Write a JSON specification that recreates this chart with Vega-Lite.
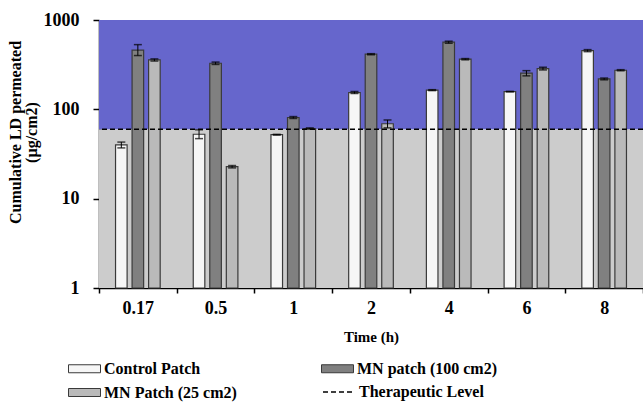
{
  "$schema": "https://vega.github.io/schema/vega-lite/v6.json",
  "autosize": "none",
  "width": 544,
  "height": 268,
  "padding": {"left": 99, "top": 20, "right": 0, "bottom": 117},
  "background": "white",
  "config": {
    "view": {"stroke": null},
    "font": "Liberation Serif",
    "axis": {"labelFont": "Liberation Serif", "titleFont": "Liberation Serif", "labelFontWeight": "bold", "titleFontWeight": "bold", "labelColor": "black", "titleColor": "black", "domainColor": "black", "tickColor": "black", "labelFontSize": 18, "titleFontSize": 16, "domainWidth": 1.5, "tickWidth": 1.5},
    "legend": {"labelFont": "Liberation Serif", "labelFontWeight": "bold", "labelFontSize": 16, "labelColor": "black"}
  },
  "datasets": {
    "bars": [
      {"time": "0.17", "series": "Control Patch", "value": 40, "lo": 37, "hi": 43},
      {"time": "0.17", "series": "MN patch (100 cm2)", "value": 460, "lo": 400, "hi": 530},
      {"time": "0.17", "series": "MN Patch (25 cm2)", "value": 357, "lo": 347, "hi": 367},
      {"time": "0.5", "series": "Control Patch", "value": 52.6, "lo": 47, "hi": 59},
      {"time": "0.5", "series": "MN patch (100 cm2)", "value": 328, "lo": 318, "hi": 338},
      {"time": "0.5", "series": "MN Patch (25 cm2)", "value": 22.8, "lo": 22.1, "hi": 23.5},
      {"time": "1", "series": "Control Patch", "value": 52, "lo": 51.5, "hi": 52.5},
      {"time": "1", "series": "MN patch (100 cm2)", "value": 81, "lo": 79, "hi": 83},
      {"time": "1", "series": "MN Patch (25 cm2)", "value": 61, "lo": 60, "hi": 62},
      {"time": "2", "series": "Control Patch", "value": 154, "lo": 150, "hi": 158},
      {"time": "2", "series": "MN patch (100 cm2)", "value": 414, "lo": 408, "hi": 420},
      {"time": "2", "series": "MN Patch (25 cm2)", "value": 69, "lo": 62, "hi": 76},
      {"time": "4", "series": "Control Patch", "value": 164, "lo": 162, "hi": 166},
      {"time": "4", "series": "MN patch (100 cm2)", "value": 564, "lo": 549, "hi": 579},
      {"time": "4", "series": "MN Patch (25 cm2)", "value": 364, "lo": 358, "hi": 370},
      {"time": "6", "series": "Control Patch", "value": 158, "lo": 157, "hi": 159},
      {"time": "6", "series": "MN patch (100 cm2)", "value": 254, "lo": 237, "hi": 271},
      {"time": "6", "series": "MN Patch (25 cm2)", "value": 286, "lo": 276, "hi": 296},
      {"time": "8", "series": "Control Patch", "value": 454, "lo": 442, "hi": 466},
      {"time": "8", "series": "MN patch (100 cm2)", "value": 219, "lo": 214, "hi": 224},
      {"time": "8", "series": "MN Patch (25 cm2)", "value": 274, "lo": 270, "hi": 278}
    ],
    "zones": [
      {"lo": 1, "hi": 60, "zone": "below"},
      {"lo": 60, "hi": 1000, "zone": "above"}
    ],
    "level": [{"label": "Therapeutic Level", "v": 60}]
  },
  "layer": [
    {
      "data": {"name": "zones"},
      "mark": {"type": "rect"},
      "encoding": {
        "y": {"field": "lo", "type": "quantitative", "scale": {"type": "log", "domain": [1, 1000]}, "axis": {
          "title": ["Cumulative LD permeated", "(µg/cm2)"],
          "titlePadding": 4,
          "titleLineHeight": 16,
          "titleY": 112,
          "values": [1,2,3,4,5,6,7,8,9,10,20,30,40,50,60,70,80,90,100,200,300,400,500,600,700,800,900,1000],
          "format": "d",
          "labelOverlap": false,
          "labelExpr": "(datum.value==1||datum.value==10||datum.value==100||datum.value==1000) ? datum.label : ''",
          "tickSize": {"condition": {"test": "datum.value==1||datum.value==10||datum.value==100||datum.value==1000", "value": 6}, "value": -5},
          "labelPadding": 14,
          "grid": false
        }},
        "y2": {"field": "hi"},
        "fill": {"condition": {"test": "datum.hi > 100", "value": "#6666cc"}, "value": "#cccccc"}
      }
    },
    {
      "data": {"name": "bars"},
      "mark": {"type": "bar", "stroke": "#3a3a3a", "strokeWidth": 1.2},
      "encoding": {
        "x": {"field": "time", "type": "nominal", "sort": ["0.17","0.5","1","2","4","6","8"], "scale": {"paddingInner": 0, "paddingOuter": 0}, "axis": {"title": "Time (h)", "titleFontSize": 15, "labelAngle": 0, "tickBand": "extent", "tickSize": 5, "labelPadding": 6, "titlePadding": 12}},
        "xOffset": {"field": "series", "type": "nominal", "sort": ["Control Patch", "MN patch (100 cm2)", "MN Patch (25 cm2)"], "scale": {"paddingInner": 0.3, "paddingOuter": 1.33}},
        "y": {"field": "value", "type": "quantitative"},
        "y2": {"datum": 1},
        "fill": {"field": "series", "type": "nominal", "sort": ["Control Patch", "MN patch (100 cm2)", "MN Patch (25 cm2)"],
          "scale": {"domain": ["Control Patch", "MN patch (100 cm2)", "MN Patch (25 cm2)"], "range": ["#f6f6f6", "#808080", "#bababa"]},
          "legend": {"title": null, "orient": "none", "direction": "horizontal", "legendX": -23, "legendY": 340, "columns": 2, "columnPadding": 82, "rowPadding": 7,
            "symbolType": "M-2,-0.5H2V0.5H-2Z", "symbolSize": 256, "symbolStrokeColor": "#3a3a3a", "symbolStrokeWidth": 1, "symbolOpacity": 1, "labelOffset": 11}}
      }
    },
    {
      "data": {"name": "bars"},
      "mark": {"type": "rule", "color": "black", "strokeWidth": 1},
      "encoding": {
        "x": {"field": "time", "type": "nominal", "sort": ["0.17","0.5","1","2","4","6","8"]},
        "xOffset": {"field": "series", "type": "nominal", "sort": ["Control Patch", "MN patch (100 cm2)", "MN Patch (25 cm2)"]},
        "y": {"field": "lo", "type": "quantitative"},
        "y2": {"field": "hi"}
      }
    },
    {
      "data": {"name": "bars"},
      "mark": {"type": "tick", "color": "black", "thickness": 1.5, "size": 8},
      "encoding": {
        "x": {"field": "time", "type": "nominal", "sort": ["0.17","0.5","1","2","4","6","8"]},
        "xOffset": {"field": "series", "type": "nominal", "sort": ["Control Patch", "MN patch (100 cm2)", "MN Patch (25 cm2)"]},
        "y": {"field": "hi", "type": "quantitative"}
      }
    },
    {
      "data": {"name": "bars"},
      "mark": {"type": "tick", "color": "black", "thickness": 1.5, "size": 8},
      "encoding": {
        "x": {"field": "time", "type": "nominal", "sort": ["0.17","0.5","1","2","4","6","8"]},
        "xOffset": {"field": "series", "type": "nominal", "sort": ["Control Patch", "MN patch (100 cm2)", "MN Patch (25 cm2)"]},
        "y": {"field": "lo", "type": "quantitative"}
      }
    },
    {
      "data": {"name": "level"},
      "mark": {"type": "rule", "color": "black", "strokeWidth": 1.5, "strokeDash": [5, 4]},
      "encoding": {
        "y": {"field": "v", "type": "quantitative"},
        "strokeDash": {"field": "label", "type": "nominal", "scale": {"range": [[5, 3]]},
          "legend": {"title": null, "orient": "none", "legendX": 223, "legendY": 355, "symbolType": "stroke", "symbolSize": 1024, "symbolStrokeColor": "black", "symbolStrokeWidth": 1.5, "labelOffset": 3}}
      }
    }
  ]
}
